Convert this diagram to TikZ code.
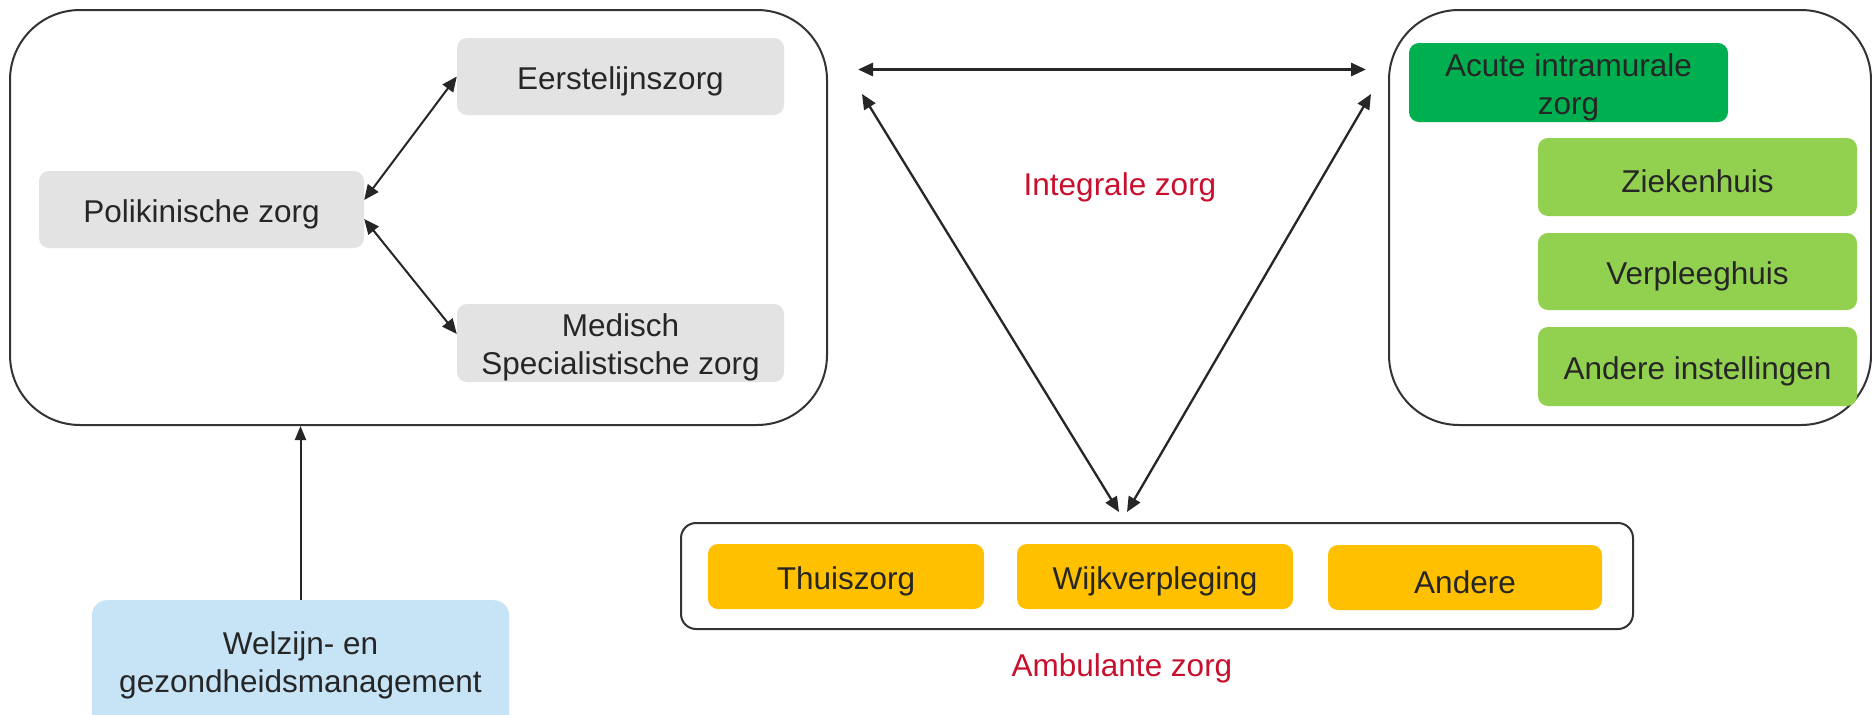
\documentclass[tikz,border=0pt]{standalone}
\usepackage{fontspec}
\setmainfont{Liberation Sans}
\usetikzlibrary{arrows.meta}
\definecolor{txt}{HTML}{262626}
\definecolor{lineC}{HTML}{333333}
\definecolor{greyfill}{HTML}{E3E3E3}
\definecolor{darkgreen}{HTML}{00B050}
\definecolor{lightgreen}{HTML}{92D050}
\definecolor{orangefill}{HTML}{FFC000}
\definecolor{bluefill}{HTML}{C6E4F6}
\definecolor{redtxt}{HTML}{C8102E}
\tikzset{
  base/.style={font=\fontsize{31.5}{38}\selectfont, text=txt, align=center, inner sep=0pt},
  boxtext/.style={label={[base,yshift=-4.5pt]center:#1}},
  smallbox/.style={inner sep=0pt, rounded corners=10, draw=none},
  greybox/.style={smallbox, fill=greyfill},
  dgbox/.style={smallbox, fill=darkgreen},
  lgbox/.style={smallbox, fill=lightgreen},
  orbox/.style={smallbox, fill=orangefill},
  bigbox/.style={draw=lineC, line width=2, rounded corners=70, inner sep=0pt},
  redlabel/.style={base, text=redtxt},
  tip/.style={Triangle[length=15,width=13]},
  dbl/.style={draw=txt, line width=2.3, {Triangle[length=15,width=13]}-{Triangle[length=15,width=13]}},
  sgl/.style={draw=txt, line width=2, -{Triangle[length=14,width=11]}}
}
\begin{document}
\begin{tikzpicture}[x=1pt,y=-1pt]
\clip (0,0) rectangle (1872,715);
\fill[white] (0,0) rectangle (1872,715);

% big containers
\node[bigbox, minimum width=817, minimum height=415] (left) at (418.5,217.5) {};
\node[bigbox, minimum width=482, minimum height=415] (right) at (1630,217.5) {};
\node[bigbox, rounded corners=15, minimum width=952, minimum height=106] (amb) at (1157,576) {};

% left box content
\node[greybox, minimum width=327, minimum height=77, boxtext={Eerstelijnszorg}] (eerste) at (620.5,76.5) {};
\node[greybox, minimum width=325, minimum height=77, boxtext={Polikinische zorg}] (poli) at (201.5,209.5) {};
\node[greybox, minimum width=327, minimum height=78, boxtext={Medisch\\Specialistische zorg}] (med) at (620.5,343) {};

% right box content
\node[dgbox, minimum width=319, minimum height=79, boxtext={Acute intramurale\\zorg}] (acute) at (1568.5,82.5) {};
\node[lgbox, minimum width=319, minimum height=78, boxtext={Ziekenhuis}] (zieken) at (1697.5,177) {};
\node[lgbox, minimum width=319, minimum height=77, boxtext={Verpleeghuis}] (verpl) at (1697.5,271.5) {};
\node[lgbox, minimum width=319, minimum height=79, boxtext={Andere instellingen}] (andinst) at (1697.5,366.5) {};

% ambulante
\node[orbox, minimum width=276, minimum height=65, boxtext={Thuiszorg}] (thuis) at (846,576.5) {};
\node[orbox, minimum width=276, minimum height=65, boxtext={Wijkverpleging}] (wijk) at (1155,576.5) {};
\node[orbox, minimum width=274, minimum height=65, boxtext={Andere}] (andere) at (1465,577.5) {};

% welzijn
\node[base, fill=bluefill, rounded corners=15, minimum width=417, minimum height=130, anchor=north] (welzijn) at (300.5,600) {Welzijn- en\\gezondheidsmanagement};

% labels
\node[redlabel] (integrale) at (1120,187) {Integrale zorg};
\node[redlabel] (ambl) at (1122,668) {Ambulante zorg};

% connectors
\draw[dbl, line width=2] ([yshift=9.5]poli.east) -- ([yshift=0]eerste.west);
\draw[dbl, line width=2] ([yshift=-9.5]poli.east) -- ([yshift=9]med.west);
\draw[sgl] (welzijn.north) -- (welzijn.north |- left.south);

\coordinate (h1) at (858,69.5);
\coordinate (h2) at (1366,69.5);
\coordinate (l1) at (862,94);
\coordinate (l2) at (1119,512);
\coordinate (r1) at (1371,94);
\coordinate (r2) at (1127,512);
\draw[dbl, line width=3] (h1) -- (h2);
\draw[dbl] (l1) -- (l2);
\draw[dbl] (r1) -- (r2);
\end{tikzpicture}
\end{document}
